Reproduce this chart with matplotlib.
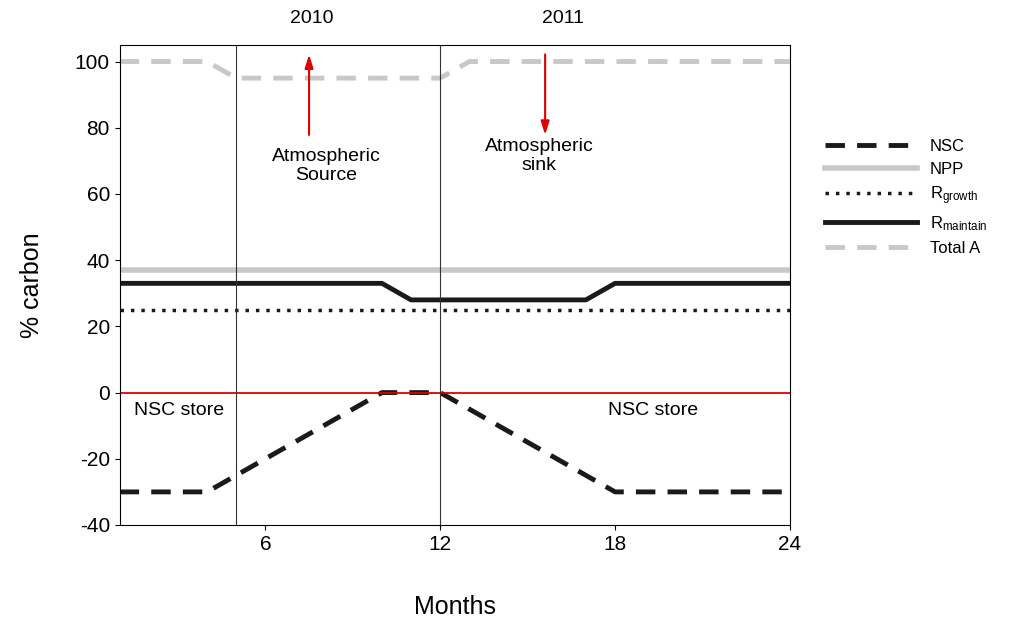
import matplotlib
matplotlib.use("Agg")
import matplotlib.pyplot as plt

nsc_x = [1, 4, 10, 12, 18, 24]
nsc_y = [-30, -30, 0, 0, -30, -30]
npp_x = [1, 24]
npp_y = [37, 37]
rg_x = [1, 24]
rg_y = [25, 25]
rm_x = [1, 10, 11, 17, 18, 24]
rm_y = [33, 33, 28, 28, 33, 33]
ta_x = [1, 4, 5, 12, 13, 24]
ta_y = [100, 100, 95, 95, 100, 100]

plt.rcParams['font.family'] = ['Liberation Sans', 'DejaVu Sans']
plt.rcParams['axes.unicode_minus'] = False
fig = plt.figure(figsize=(10.14, 6.25), dpi=100)
ax = fig.add_axes([0.118, 0.16, 0.661, 0.768])

ax.plot(npp_x, npp_y, color='#c8c8c8', lw=4, label='NPP', zorder=2)
ax.plot(rg_x, rg_y, color='#1a1a1a', lw=2.5, ls=(0, (1, 2)), label='$\\mathregular{R_{growth}}$')
ax.plot(rm_x, rm_y, color='#1a1a1a', lw=3.5, label='$\\mathregular{R_{maintain}}$')
ax.plot(ta_x, ta_y, color='#c8c8c8', lw=3.5, ls=(0, (4, 2.5)), label='Total A')
ax.plot(nsc_x, nsc_y, color='#1a1a1a', lw=3.5, ls=(0, (4, 2.5)), label='NSC')
ax.axhline(0, color='#e00000', lw=1.3)
ax.axvline(5, color='#333333', lw=0.8)
ax.axvline(12, color='#333333', lw=0.8)

ap = dict(arrowstyle='-|>,head_length=0.8,head_width=0.25', color='#e00000', lw=1.5)
ax.annotate('', xy=(7.5, 103), xytext=(7.5, 77), arrowprops=ap)
ax.annotate('', xy=(15.6, 77), xytext=(15.6, 103), arrowprops=ap)
ax.text(8.1, 68.5, 'Atmospheric\nSource', ha='center', va='center', fontsize=14)
ax.text(15.4, 71.5, 'Atmospheric\nsink', ha='center', va='center', fontsize=14)
ax.text(7.6, 113, '2010', ha='center', va='center', fontsize=14)
ax.text(16.2, 113, '2011', ha='center', va='center', fontsize=14)
ax.text(3.05, -5.5, 'NSC store', ha='center', va='center', fontsize=14)
ax.text(19.3, -5.5, 'NSC store', ha='center', va='center', fontsize=14)

ax.set_xlim(1, 24)
ax.set_ylim(-40, 105)
ax.set_xticks([6, 12, 18, 24])
ax.set_yticks(range(-40, 101, 20))
ax.tick_params(labelsize=15, direction='out')
ax.set_xlabel('Months', fontsize=18, labelpad=30)
ax.set_ylabel('% carbon', fontsize=18, labelpad=22)

h, l = ax.get_legend_handles_labels()
order = [4, 0, 1, 2, 3]
ax.legend([h[i] for i in order], [l[i] for i in order], loc='upper left',
          bbox_to_anchor=(1.03, 0.835), frameon=False, fontsize=12,
          handlelength=5.5, labelspacing=0.45)
fig.savefig('out.png', dpi=100)
